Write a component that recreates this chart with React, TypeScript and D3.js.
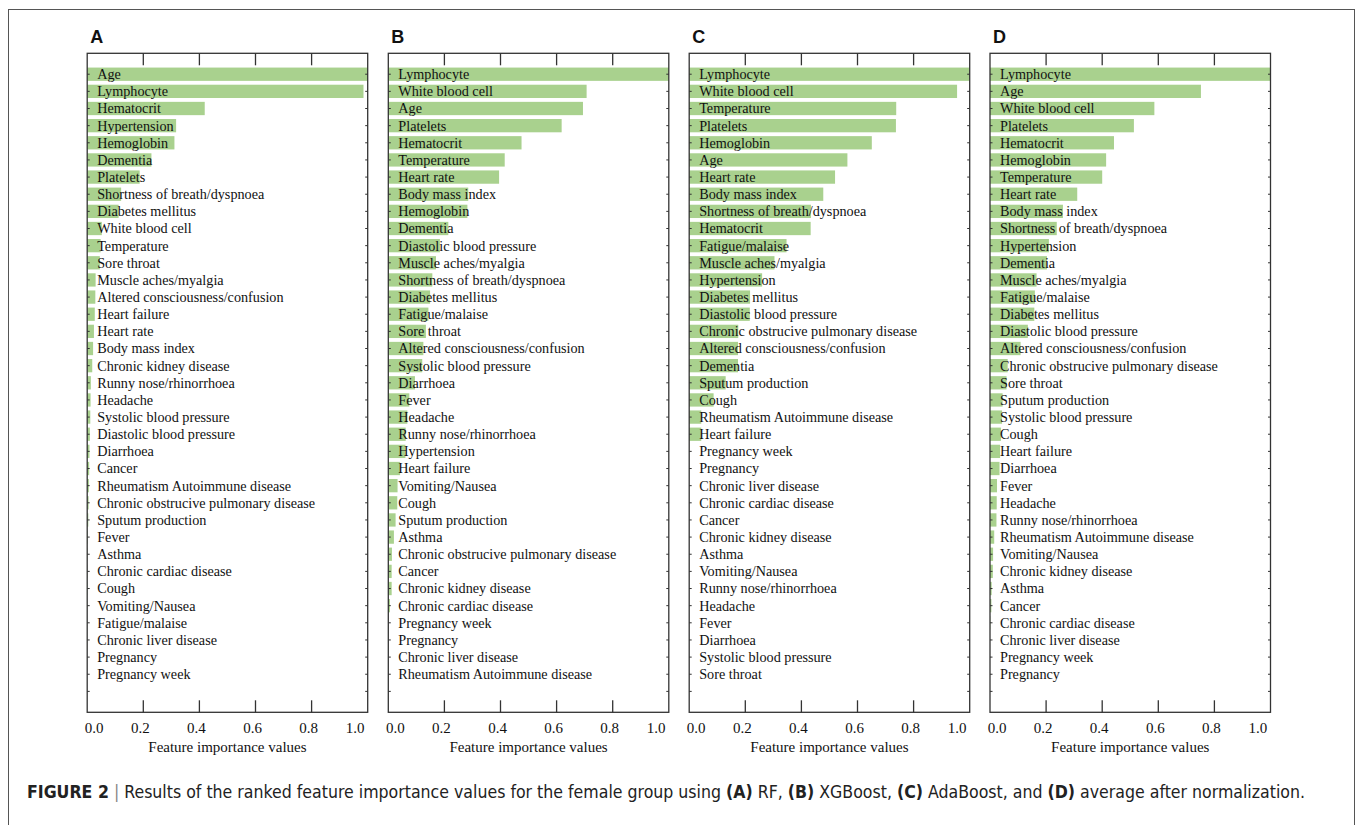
import React from "react";
import * as d3 from "d3";

const panelLetters = ["A", "B", "C", "D"];

const labelsA = ["Age", "Lymphocyte", "Hematocrit", "Hypertension", "Hemoglobin", "Dementia", "Platelets", "Shortness of breath/dyspnoea", "Diabetes mellitus", "White blood cell", "Temperature", "Sore throat", "Muscle aches/myalgia", "Altered consciousness/confusion", "Heart failure", "Heart rate", "Body mass index", "Chronic kidney disease", "Runny nose/rhinorrhoea", "Headache", "Systolic blood pressure", "Diastolic blood pressure", "Diarrhoea", "Cancer", "Rheumatism Autoimmune disease", "Chronic obstrucive pulmonary disease", "Sputum production", "Fever", "Asthma", "Chronic cardiac disease", "Cough", "Vomiting/Nausea", "Fatigue/malaise", "Chronic liver disease", "Pregnancy", "Pregnancy week"];
const valuesA = [1.0, 0.985, 0.419, 0.317, 0.311, 0.229, 0.187, 0.121, 0.112, 0.052, 0.048, 0.045, 0.03, 0.029, 0.027, 0.024, 0.021, 0.018, 0.013, 0.012, 0.011, 0.0095, 0.008, 0.007, 0.006, 0.005, 0.004, 0.002, 0.001, 0.001, 0.0008, 0.0005, 0.0004, 0.0002, 0, 0];

const labelsB = ["Lymphocyte", "White blood cell", "Age", "Platelets", "Hematocrit", "Temperature", "Heart rate", "Body mass index", "Hemoglobin", "Dementia", "Diastolic blood pressure", "Muscle aches/myalgia", "Shortness of breath/dyspnoea", "Diabetes mellitus", "Fatigue/malaise", "Sore throat", "Altered consciousness/confusion", "Systolic blood pressure", "Diarrhoea", "Fever", "Headache", "Runny nose/rhinorrhoea", "Hypertension", "Heart failure", "Vomiting/Nausea", "Cough", "Sputum production", "Asthma", "Chronic obstrucive pulmonary disease", "Cancer", "Chronic kidney disease", "Chronic cardiac disease", "Pregnancy week", "Pregnancy", "Chronic liver disease", "Rheumatism Autoimmune disease"];
const valuesB = [1.0, 0.707, 0.694, 0.618, 0.475, 0.415, 0.395, 0.285, 0.282, 0.214, 0.184, 0.17, 0.157, 0.149, 0.143, 0.134, 0.125, 0.121, 0.095, 0.075, 0.068, 0.062, 0.061, 0.042, 0.033, 0.032, 0.026, 0.02, 0.013, 0.012, 0.012, 0.006, 0, 0, 0, 0];

const labelsC = ["Lymphocyte", "White blood cell", "Temperature", "Platelets", "Hemoglobin", "Age", "Heart rate", "Body mass index", "Shortness of breath/dyspnoea", "Hematocrit", "Fatigue/malaise", "Muscle aches/myalgia", "Hypertension", "Diabetes mellitus", "Diastolic blood pressure", "Chronic obstrucive pulmonary disease", "Altered consciousness/confusion", "Dementia", "Sputum production", "Cough", "Rheumatism Autoimmune disease", "Heart failure", "Pregnancy week", "Pregnancy", "Chronic liver disease", "Chronic cardiac disease", "Cancer", "Chronic kidney disease", "Asthma", "Vomiting/Nausea", "Runny nose/rhinorrhoea", "Headache", "Fever", "Diarrhoea", "Systolic blood pressure", "Sore throat"];
const valuesC = [1.0, 0.955, 0.738, 0.737, 0.651, 0.564, 0.52, 0.478, 0.434, 0.433, 0.347, 0.304, 0.26, 0.217, 0.216, 0.175, 0.174, 0.174, 0.13, 0.087, 0.043, 0.043, 0, 0, 0, 0, 0, 0, 0, 0, 0, 0, 0, 0, 0, 0];

const labelsD = ["Lymphocyte", "Age", "White blood cell", "Platelets", "Hematocrit", "Hemoglobin", "Temperature", "Heart rate", "Body mass index", "Shortness of breath/dyspnoea", "Hypertension", "Dementia", "Muscle aches/myalgia", "Fatigue/malaise", "Diabetes mellitus", "Diastolic blood pressure", "Altered consciousness/confusion", "Chronic obstrucive pulmonary disease", "Sore throat", "Sputum production", "Systolic blood pressure", "Cough", "Heart failure", "Diarrhoea", "Fever", "Headache", "Runny nose/rhinorrhoea", "Rheumatism Autoimmune disease", "Vomiting/Nausea", "Chronic kidney disease", "Asthma", "Cancer", "Chronic cardiac disease", "Chronic liver disease", "Pregnancy week", "Pregnancy"];
const valuesD = [1.0, 0.752, 0.586, 0.513, 0.442, 0.414, 0.4, 0.311, 0.26, 0.238, 0.21, 0.203, 0.166, 0.16, 0.158, 0.135, 0.109, 0.063, 0.059, 0.045, 0.043, 0.039, 0.036, 0.034, 0.025, 0.024, 0.023, 0.015, 0.011, 0.01, 0.006, 0.005, 0.001, 0, 0, 0];

const xTicks = [0, 0.2, 0.4, 0.6, 0.8, 1.0];
const xTickLabels = ["0.0", "0.2", "0.4", "0.6", "0.8", "1.0"];
const xAxisTitle = "Feature importance values";

const panels = [
  { letter: panelLetters[0], labels: labelsA, values: valuesA },
  { letter: panelLetters[1], labels: labelsB, values: valuesB },
  { letter: panelLetters[2], labels: labelsC, values: valuesC },
  { letter: panelLetters[3], labels: labelsD, values: valuesD },
];

const W = 1360;
const H = 825;
const panelLefts = [87.2, 388.3, 689.2, 990.0];
const plotW = 280.5;
const plotTop = 53.3;
const plotBottom = 712.3;
const barH = 13.3;
const serif = "'Liberation Serif', 'Times New Roman', serif";
const sans = "'Liberation Sans', Arial, sans-serif";
const green = "#a9d18e";
const axisColor = "#333";
const labelOffsets = [7, -3, -3, -3, -3, -12.7];

function Panel({ left, letter, labels, values }) {
  const x = d3.scaleLinear().domain([0, 1]).range([left, left + plotW]);
  const slots = labels.map((_, i) => String(i)).concat(["end"]);
  const y = d3.scalePoint().domain(slots).range([plotTop, plotBottom]).padding(1.22);
  return (
    <g>
      <text x={left + 3} y={43} fontFamily={sans} fontWeight="bold" fontSize={18} fill="#111">{letter}</text>
      {values.map((v, i) => (
        <rect key={"b" + i} x={x(0)} y={y(String(i)) - barH / 2} width={Math.max(0, x(v) - x(0))} height={barH} fill={green} />
      ))}
      {labels.map((l, i) => (
        <text key={"l" + i} x={left + 10} y={y(String(i))} dy="0.35em" fontFamily={serif} fontSize={14.2} fill="#111">{l}</text>
      ))}
      <rect x={left} y={plotTop} width={plotW} height={plotBottom - plotTop} fill="none" stroke={axisColor} strokeWidth={1.3} />
      {xTicks.slice(1, 5).map((t, i) => (
        <g key={"t" + i}>
          <line x1={x(t)} x2={x(t)} y1={plotTop} y2={plotTop + 12} stroke={axisColor} strokeWidth={1.3} />
          <line x1={x(t)} x2={x(t)} y1={plotBottom} y2={plotBottom - 12} stroke={axisColor} strokeWidth={1.3} />
        </g>
      ))}
      {slots.map((s, i) => (
        <g key={"m" + i}>
          <line x1={left} x2={left + 2.5} y1={y(s)} y2={y(s)} stroke={axisColor} strokeWidth={1} />
          <line x1={left + plotW} x2={left + plotW - 2.5} y1={y(s)} y2={y(s)} stroke={axisColor} strokeWidth={1} />
        </g>
      ))}
      {xTicks.map((t, i) => (
        <text key={"tl" + i} x={x(t) + labelOffsets[i]} y={733} textAnchor="middle" fontFamily={serif} fontSize={15} fill="#111">{xTickLabels[i]}</text>
      ))}
      <text x={left + plotW / 2} y={752} textAnchor="middle" fontFamily={serif} fontSize={15} fill="#111">{xAxisTitle}</text>
    </g>
  );
}

export default function App() {
  return (
    <svg width={W} height={H} style={{ position: "absolute", left: 0, top: 0, background: "#fff" }}>
      <rect x={0} y={0} width={W} height={H} fill="#fff" />
      <rect x={8.5} y={9.5} width={1346} height={840} fill="none" stroke="#555" strokeWidth={1} />
      {panels.map((p, i) => (
        <Panel key={p.letter} left={panelLefts[i]} letter={p.letter} labels={p.labels} values={p.values} />
      ))}
      <text x={27} y={798} fontFamily="'DejaVu Sans', sans-serif" fontStretch="condensed" fontSize={17} fill="#222" textLength={1278} lengthAdjust="spacingAndGlyphs">
        <tspan fontWeight="bold">FIGURE 2</tspan>
        <tspan fill="#888"> | </tspan>
        <tspan>Results of the ranked feature importance values for the female group using </tspan>
        <tspan fontWeight="bold">(A)</tspan>
        <tspan> RF, </tspan>
        <tspan fontWeight="bold">(B)</tspan>
        <tspan> XGBoost, </tspan>
        <tspan fontWeight="bold">(C)</tspan>
        <tspan> AdaBoost, and </tspan>
        <tspan fontWeight="bold">(D)</tspan>
        <tspan> average after normalization.</tspan>
      </text>
    </svg>
  );
}
